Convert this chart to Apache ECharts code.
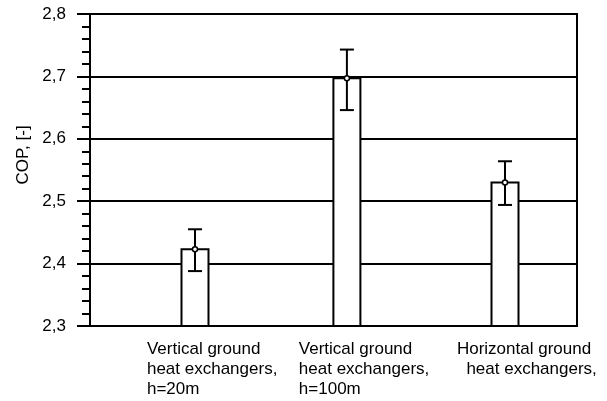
<!DOCTYPE html>
<html>
<head>
<meta charset="utf-8">
<script src="https://cdn.jsdelivr.net/npm/echarts@6/dist/echarts.min.js"></script>
<style>
  html, body { margin: 0; padding: 0; background: #fff; }
  #chart { width: 607px; height: 401px; }
</style>
</head>
<body>
<div id="chart"></div>
<script>
const categories = [
  'Vertical ground\nheat exchangers,\nh=20m',
  'Vertical ground\nheat exchangers,\nh=100m',
  'Horizontal ground\n  heat exchangers,'
];
const positions = [1, 1.98, 3];
const cop = [2.423, 2.697, 2.530];
const copLow = [2.388, 2.646, 2.494];
const copHigh = [2.455, 2.743, 2.564];
const yTicks = [2.3, 2.4, 2.5, 2.6, 2.7, 2.8];

const yMin = yTicks[0];
const yMax = yTicks[yTicks.length - 1];
const labelShift = 0.31;
const labelAt = positions.map((x) => x - labelShift);

const rows = positions.map((x, i) => [x, cop[i], copLow[i], copHigh[i]]);

const element = document.getElementById('chart');
const chart = echarts.init(element, null, { width: 607, height: 401 });

chart.setOption({
  animation: false,
  textStyle: {
    fontFamily: 'Liberation Sans',
    fontSize: 17,
    color: '#000',
  },
  grid: {
    left: 90,
    right: 30,
    top: 14,
    bottom: 75,
    show: true,
    borderColor: '#000',
    borderWidth: 2,
  },
  xAxis: {
    type: 'value',
    min: 0.3226,
    max: 3.4645,
    axisLine: { lineStyle: { color: '#000', width: 2 } },
    axisTick: { show: false },
    splitLine: { show: false },
    axisLabel: {
      customValues: labelAt,
      formatter: (v) => {
        const i = labelAt.findIndex((p) => Math.abs(p - v) < 1e-6);
        return i >= 0 ? categories[i] : '';
      },
      align: 'left',
      verticalAlign: 'top',
      lineHeight: 20,
      margin: 13,
      color: '#000',
      fontFamily: 'Liberation Sans',
      fontSize: 17,
    },
  },
  yAxis: {
    type: 'value',
    min: yMin,
    max: yMax,
    interval: 0.1,
    name: 'COP, [-]',
    nameLocation: 'middle',
    nameGap: 56,
    nameTextStyle: {
      color: '#000',
      fontFamily: 'Liberation Sans',
      fontSize: 17,
      padding: [0, 0, 0, 30],
    },
    axisLine: { lineStyle: { color: '#000', width: 2 } },
    axisTick: { length: 13, lineStyle: { color: '#000', width: 2 } },
    minorTick: { show: true, splitNumber: 5, length: 8, lineStyle: { color: '#000', width: 2 } },
    splitLine: { lineStyle: { color: '#000', width: 2 } },
    axisLabel: {
      margin: 24,
      color: '#000',
      fontFamily: 'Liberation Sans',
      fontSize: 17,
      formatter: (v) => v.toFixed(1).replace('.', ','),
    },
  },
  series: [
    {
      type: 'custom',
      data: rows,
      encode: { x: 0, y: [1, 2, 3] },
      renderItem: (params, api) => {
        const x = api.value(0);
        const top = api.coord([x, api.value(1)]);
        const base = api.coord([x, yMin]);
        const low = api.coord([x, api.value(2)]);
        const high = api.coord([x, api.value(3)]);
        const halfBar = 13.5;
        const halfCap = 7;
        return {
          type: 'group',
          children: [
            {
              type: 'rect',
              shape: { x: top[0] - halfBar, y: top[1], width: halfBar * 2, height: base[1] - top[1] },
              style: { fill: '#fff', stroke: '#000', lineWidth: 2 },
            },
            {
              type: 'line',
              shape: { x1: low[0], y1: low[1], x2: high[0], y2: high[1] },
              style: { stroke: '#000', lineWidth: 2 },
            },
            {
              type: 'line',
              shape: { x1: high[0] - halfCap, y1: high[1], x2: high[0] + halfCap, y2: high[1] },
              style: { stroke: '#000', lineWidth: 2 },
            },
            {
              type: 'line',
              shape: { x1: low[0] - halfCap, y1: low[1], x2: low[0] + halfCap, y2: low[1] },
              style: { stroke: '#000', lineWidth: 2 },
            },
            {
              type: 'circle',
              shape: { cx: top[0], cy: top[1], r: 2.5 },
              style: { fill: '#fff', stroke: '#000', lineWidth: 1.5 },
            },
          ],
        };
      },
    },
  ],
});
</script>
</body>
</html>
